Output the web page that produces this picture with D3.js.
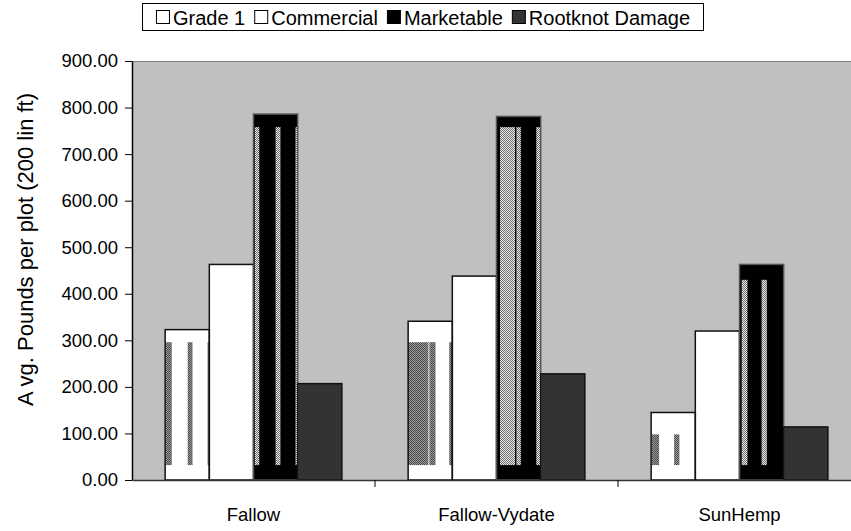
<!DOCTYPE html>
<html>
<head>
<meta charset="utf-8">
<script src="https://cdn.jsdelivr.net/npm/d3@7/dist/d3.min.js"></script>
<style>
  html, body { margin: 0; padding: 0; background: #ffffff; }
  svg { display: block; font-family: "Liberation Sans", Arial, sans-serif; }
</style>
</head>
<body>
<svg id="chart" width="851" height="531"></svg>
<script>
// Treatments and yield series (avg. pounds per 200 linear ft plot)
const categories = ["Fallow", "Fallow-Vydate", "SunHemp"];
const seriesNames = ["Grade 1", "Commercial", "Marketable", "Rootknot Damage"];
const grade1 = [323, 341, 145];
const commercial = [463, 438, 320];
const marketable = [786, 781, 463];
const rootknot = [207, 228, 114];
const yTicks = [0, 100, 200, 300, 400, 500, 600, 700, 800, 900];

// Inner hatched bands shown inside the Grade 1 and Marketable bars
const grade1Inner = [296, 296, 98];
const marketableInner = [758, 758, 430];
const innerBase = 32;

const seriesValues = [grade1, commercial, marketable, rootknot];
const fills = ["#ffffff", "#ffffff", "#000000", "#333333"];
const FONT = "Liberation Sans, Arial, sans-serif";
const labelSize = 18.5;
const legendSize = 20;

const svg = d3.select("#chart");
const margin = { left: 132, right: -10, top: 61, bottom: 51 };
const W = 851, H = 531;

const x0 = d3.scaleBand().domain(categories)
  .range([margin.left, W - margin.right]).paddingInner(0).paddingOuter(0);
const x1 = d3.scaleBand().domain(seriesNames)
  .range([0, x0.bandwidth()]).paddingOuter(0.75).paddingInner(0);
const y = d3.scaleLinear().domain([0, 900]).range([H - margin.bottom, margin.top]);

// checker patterns
const defs = svg.append("defs");
function checker(id, a, b) {
  const p = defs.append("pattern").attr("id", id).attr("patternUnits", "userSpaceOnUse")
    .attr("width", 2).attr("height", 2);
  p.append("rect").attr("width", 2).attr("height", 2).attr("fill", a);
  p.append("rect").attr("width", 1).attr("height", 1).attr("fill", b);
  p.append("rect").attr("x", 1).attr("y", 1).attr("width", 1).attr("height", 1).attr("fill", b);
}
checker("chkDark", "#9a9a9a", "#4a4a4a");
checker("chkLight", "#e8e8e8", "#707070");

// plot area
svg.append("rect")
  .attr("x", margin.left).attr("y", y(900))
  .attr("width", x0.range()[1] - margin.left).attr("height", y(0) - y(900))
  .attr("fill", "#c0c0c0");
svg.append("line")
  .attr("x1", margin.left).attr("x2", W).attr("y1", y(900) + 0.5).attr("y2", y(900) + 0.5)
  .attr("stroke", "#808080").attr("stroke-width", 1);

// bars
const rows = [];
categories.forEach((c, i) => {
  seriesNames.forEach((s, j) => rows.push({ c, s, i, j, v: seriesValues[j][i] }));
});

const g = svg.append("g");
g.selectAll("rect.bar").data(rows).join("rect")
  .attr("class", "bar")
  .attr("x", d => x0(d.c) + x1(d.s))
  .attr("y", d => y(d.v))
  .attr("width", x1.bandwidth())
  .attr("height", d => y(0) - y(d.v))
  .attr("fill", d => fills[d.j]);

// hatched stripes (fractions of bar width)
const stripeLayout = {
  "Grade 1": [
    [[0.02, 0.15], [0.51, 0.62], [0.96, 0.99]],
    [[0.0, 0.46], [0.48, 0.62], [0.93, 0.99]],
    [[0.02, 0.18], [0.52, 0.64]]
  ],
  "Marketable": [
    [[0.03, 0.13], [0.5, 0.61], [0.95, 0.99]],
    [[0.08, 0.42], [0.45, 0.55], [0.9, 0.99]],
    [[0.05, 0.18], [0.5, 0.62]]
  ]
};
const innerTops = { "Grade 1": grade1Inner, "Marketable": marketableInner };
const stripes = [];
rows.filter(d => innerTops[d.s]).forEach(d => {
  stripeLayout[d.s][d.i].forEach(([a, b]) => {
    stripes.push({ d, a, b, top: innerTops[d.s][d.i] });
  });
});
g.selectAll("rect.stripe").data(stripes).join("rect")
  .attr("class", "stripe")
  .attr("x", s => x0(s.d.c) + x1(s.d.s) + s.a * x1.bandwidth())
  .attr("width", s => (s.b - s.a) * x1.bandwidth())
  .attr("y", s => y(s.top))
  .attr("height", s => y(innerBase) - y(s.top))
  .attr("fill", s => s.d.s === "Grade 1" ? "url(#chkDark)" : "url(#chkLight)");

// bar outlines
g.selectAll("rect.outline").data(rows).join("rect")
  .attr("class", "outline")
  .attr("x", d => x0(d.c) + x1(d.s))
  .attr("y", d => y(d.v))
  .attr("width", x1.bandwidth())
  .attr("height", d => y(0) - y(d.v))
  .attr("fill", "none")
  .attr("stroke", d => d.j === 2 ? "#555" : "#111")
  .attr("stroke-width", 1.5);

// y axis
const yAxis = svg.append("g")
  .attr("transform", `translate(${margin.left},0)`)
  .call(d3.axisLeft(y).tickValues(yTicks).tickFormat(d3.format(".2f")).tickSize(7).tickSizeOuter(0));
yAxis.select(".domain").attr("stroke", "#000").attr("stroke-width", 1.5);
yAxis.selectAll(".tick line").attr("stroke", "#000");
yAxis.selectAll("text").attr("font-size", labelSize).attr("fill", "#000")
  .attr("font-family", FONT).attr("x", -14);

// x axis
const xAxis = svg.append("g")
  .attr("transform", `translate(0,${y(0)})`)
  .call(d3.axisBottom(x0).tickSize(0).tickSizeOuter(0));
xAxis.select(".domain").attr("stroke", "#333").attr("stroke-width", 1.5);
xAxis.selectAll("text").attr("font-size", labelSize).attr("fill", "#000")
  .attr("y", 0).attr("dy", 0).attr("transform", "translate(0,41)")
  .attr("font-family", FONT);
// category separators
svg.append("g").selectAll("line").data(categories.slice(1)).join("line")
  .attr("x1", d => x0(d)).attr("x2", d => x0(d))
  .attr("y1", y(0)).attr("y2", y(0) + 7)
  .attr("stroke", "#000").attr("stroke-width", 1);

// y axis title
svg.append("text")
  .attr("transform", `translate(33,${(y(0) + y(900)) / 2 - 21}) rotate(-90)`)
  .attr("text-anchor", "middle")
  .attr("font-size", 22)
  .text("A vg. Pounds per plot (200 lin ft)");

// legend: squares and labels flowed left to right, centred in the frame
const legend = svg.append("g");
const box = { x: 142.5, y: 3.5, w: 561, h: 27 };
legend.append("rect").attr("x", box.x).attr("y", box.y).attr("width", box.w).attr("height", box.h)
  .attr("fill", "#fff").attr("stroke", "#000").attr("stroke-width", 1);
const items = legend.selectAll("g.item").data(seriesNames).join("g").attr("class", "item");
items.append("rect").attr("x", 0.5).attr("y", 10.5).attr("width", 13).attr("height", 13)
  .attr("fill", (d, i) => fills[i]).attr("stroke", "#000").attr("stroke-width", 1);
items.append("text").attr("x", 17).attr("y", 24.5).attr("font-size", legendSize).text(d => d);
const widths = [];
items.each(function () { widths.push(17 + this.querySelector("text").getComputedTextLength()); });
const gap = 9;
const total = d3.sum(widths) + gap * (widths.length - 1);
let cx = box.x + (box.w - total) / 2;
items.attr("transform", (d, i) => { const t = `translate(${cx},0)`; cx += widths[i] + gap; return t; });
</script>
</body>
</html>
